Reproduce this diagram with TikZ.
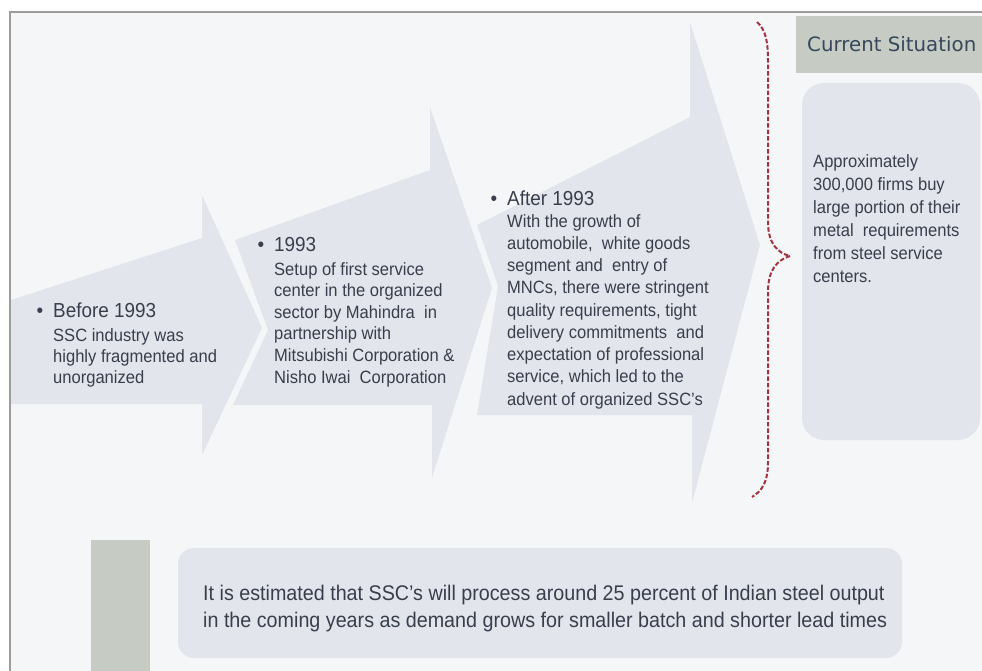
\documentclass[tikz,border=0pt]{standalone}
\usepackage{fontspec}
\setmainfont[FakeStretch=0.93]{Liberation Sans}
\newfontfamily\csfont{DejaVu Sans}
\definecolor{bgin}{HTML}{F5F6F8}
\definecolor{framec}{HTML}{9C9C9C}
\definecolor{arrowfill}{HTML}{E2E6EC}
\definecolor{boxfill}{HTML}{E2E6EC}
\definecolor{sage}{HTML}{C6CCC4}
\definecolor{txt}{HTML}{383E4B}
\definecolor{cstxt}{HTML}{37485C}
\definecolor{bracec}{HTML}{9E3540}
\tikzset{
  arrowshape/.style={fill=arrowfill, draw=none},
  headtxt/.style={anchor=base west, inner sep=0pt, text=txt, font=\fontsize{20.3}{24}\selectfont},
  bodytxt/.style={anchor=base west, inner sep=0pt, align=left, text=txt, font=\fontsize{17.8}{21.6}\selectfont},
  bracepath/.style={draw=bracec, line width=2pt, dash pattern=on 4.5pt off 2pt},
  sagebox/.style={fill=sage, draw=none},
  softbox/.style={fill=boxfill, draw=none, rounded corners=#1},
}
\begin{document}
\begin{tikzpicture}[x=1pt,y=-1pt]
\useasboundingbox (0,0) rectangle (982,671);
\fill[white] (0,0) rectangle (982,671);
\fill[bgin] (10,12) rectangle (982,671);
\draw[framec, line width=1.2pt] (10,671) -- (10,12) -- (982,12);

% chevron arrows
\path[arrowshape] (11,300) -- (202,238) -- (202,195) -- (262,328) -- (202,455) -- (202,404) -- (11,404) -- cycle;
\path[arrowshape] (235,240) -- (430,170) -- (430,107) -- (492,288) -- (432,478) -- (432,405) -- (233,405) -- (268,330) -- cycle;
\path[arrowshape] (477,225) -- (690,117) -- (690,22) -- (760,245) -- (692,503) -- (692,415) -- (477,415) -- (498,286) -- cycle;

% arrow texts (multi-line nodes are anchored at the baseline of their last line)
\node[headtxt] (h1) at (53,317) {\llap{•\hskip 10pt}Before 1993};
\node[bodytxt, font=\fontsize{17.8}{21}\selectfont] (b1) at (53,383) {SSC industry was\\highly fragmented and\\unorganized};

\node[headtxt] (h2) at (274,251) {\llap{•\hskip 10pt}1993};
\node[bodytxt] (b2) at (274,383) {Setup of first service\\center in the organized\\sector by Mahindra\ \ in\\partnership with\\Mitsubishi Corporation \&\\Nisho Iwai\ \ Corporation};

\node[headtxt] (h3) at (507,205) {\llap{•\hskip 10pt}After 1993};
\node[bodytxt, font=\fontsize{17.8}{22.25}\selectfont] (b3) at (507,405) {With the growth of\\automobile,\ \ white goods\\segment and\ \ entry of\\MNCs, there were stringent\\quality requirements, tight\\delivery commitments\ \ and\\expectation of professional\\service, which led to the\\advent of organized SSC’s};

% brace
\coordinate (brtop) at (757,22);
\coordinate (brtip) at (790,256);
\coordinate (brbot) at (752,497);
\draw[bracepath] (brtop) .. controls (766,30) and (768,42) .. (768,62) -- (768,222) .. controls (768,244) and (778,253) .. (brtip);
\draw[bracepath] (brtip) .. controls (777,260) and (768,270) .. (768,292) -- (768,462) .. controls (768,482) and (762,491) .. (brbot);

% current situation
\node[sagebox, anchor=north west, minimum width=186pt, minimum height=57pt, inner sep=0pt] (cshead) at (796,16) {};
\node[anchor=base west, inner sep=0pt, text=cstxt, font=\csfont\fontsize{19.8}{24}\selectfont] (cstitle) at (807,52) {Current Situation};
\path[softbox=22pt] (802,83) rectangle (980,440);
\node[bodytxt, font=\fontsize{17.8}{23}\selectfont] (cstext) at (813,282) {Approximately\\300,000 firms buy\\large portion of their\\metal\ \ requirements\\from steel service\\centers.};

% bottom
\path[sagebox] (91,540) rectangle (150,671);
\path[softbox=16pt] (178,548) rectangle (902,658);
\node[bodytxt, font=\fontsize{21.2}{27}\selectfont] (bottomtext) at (203,627) {It is estimated that SSC’s will process around 25 percent of Indian steel output\\in the coming years as demand grows for smaller batch and shorter lead times};
\end{tikzpicture}
\end{document}
